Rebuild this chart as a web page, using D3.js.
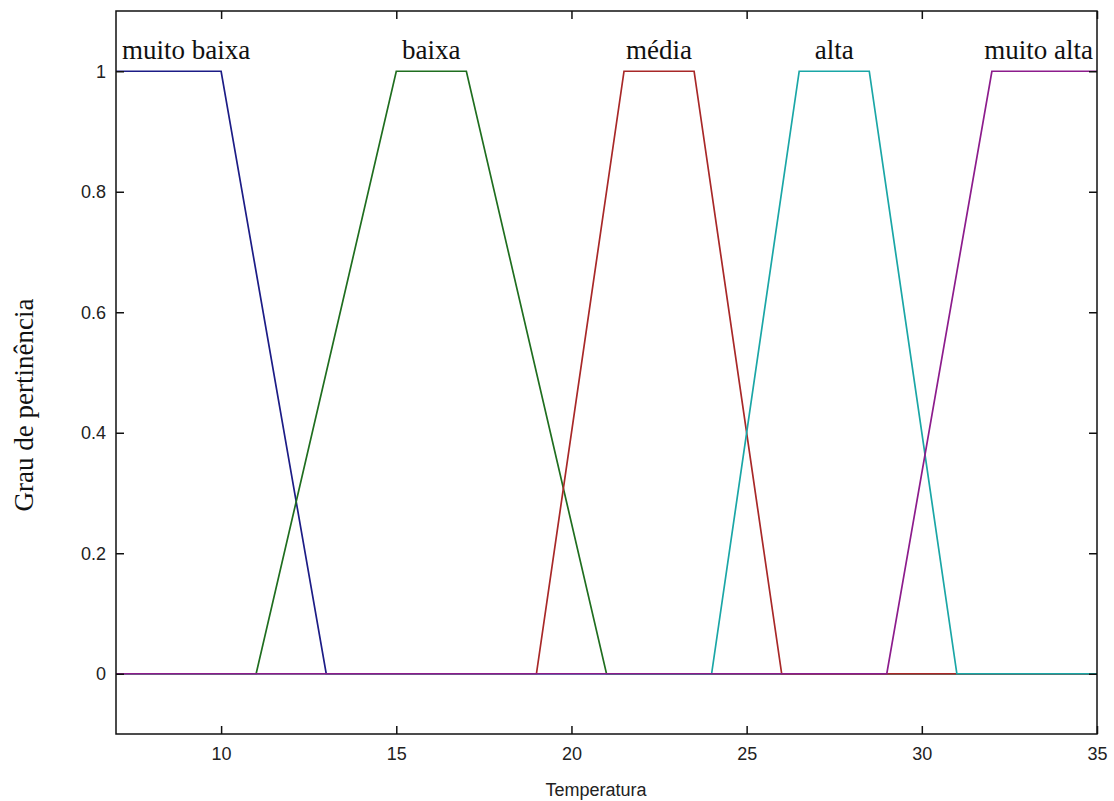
<!DOCTYPE html>
<html>
<head>
<meta charset="utf-8">
<script src="https://cdn.jsdelivr.net/npm/d3@7"></script>
<style>
  body { margin: 0; background: #fff; }
</style>
</head>
<body>
<div id="chart"></div>
<script>
// fuzzy sets for temperature (trapezoid a, b, c, d)
const setNames = ["muito baixa", "baixa", "média", "alta", "muito alta"];
const setParams = [
    [7, 7, 10, 13],
    [11, 15, 17, 21],
    [19, 21.5, 23.5, 26],
    [24, 26.5, 28.5, 31],
    [29, 32, 35, 35]
];
const setColors = ["#1c1c86", "#1f6e1f", "#a82828", "#1aa6a6", "#8c1c8c"];
const xTicks = [10, 15, 20, 25, 30, 35];
const yTicks = [0, 0.2, 0.4, 0.6, 0.8, 1];
const xDomain = [7, 35];
const yDomain = [-0.1, 1.1];

const width = 1114;
const height = 801;
const margin = {top: 11, right: 17, bottom: 67, left: 116};

const svg = d3.select('#chart')
    .append('svg')
        .attr('width', width)
        .attr('height', height);

const x = d3.scaleLinear()
    .domain(xDomain)
    .range([margin.left, width - margin.right]);
const y = d3.scaleLinear()
    .domain(yDomain)
    .range([height - margin.bottom, margin.top]);

// each set drawn over the whole domain, 0 outside its support
const setPoints = p => {
    const pts = [[xDomain[0], p[0] <= xDomain[0] ? 1 : 0]];
    if (p[0] > xDomain[0]) pts.push([p[0], 0]);
    pts.push([p[1], 1], [p[2], 1]);
    if (p[3] < xDomain[1]) pts.push([p[3], 0], [xDomain[1], 0]);
    return pts;
};

const line = d3.line()
    .x(d => x(d[0]))
    .y(d => y(d[1]));

svg.append('g')
    .selectAll('path')
    .data(setParams)
    .join('path')
        .attr('d', d => line(setPoints(d)))
        .attr('fill', 'none')
        .attr('stroke', (d, i) => setColors[i])
        .attr('stroke-width', 1.7);

// axes, MATLAB style: box with inward ticks on all sides
const tickLen = 8;
svg.append('g')
    .attr('transform', `translate(0,${height - margin.bottom})`)
    .call(d3.axisBottom(x).tickValues(xTicks).tickSizeInner(-tickLen).tickSizeOuter(0).tickPadding(13))
    .call(g => g.select('.domain').remove());
svg.append('g')
    .attr('transform', `translate(0,${margin.top})`)
    .call(d3.axisTop(x).tickValues(xTicks).tickSizeInner(-tickLen).tickSizeOuter(0).tickFormat(''))
    .call(g => g.select('.domain').remove());
svg.append('g')
    .attr('transform', `translate(${margin.left},0)`)
    .call(d3.axisLeft(y).tickValues(yTicks).tickSizeInner(-tickLen).tickSizeOuter(0).tickPadding(10)
        .tickFormat(d => d === 0 || d === 1 ? d : d3.format('.1f')(d)))
    .call(g => g.select('.domain').remove());
svg.append('g')
    .attr('transform', `translate(${width - margin.right},0)`)
    .call(d3.axisRight(y).tickValues(yTicks).tickSizeInner(-tickLen).tickSizeOuter(0).tickFormat(''))
    .call(g => g.select('.domain').remove());

svg.selectAll('.tick line')
    .attr('stroke', '#111')
    .attr('stroke-width', 1.5);
svg.selectAll('.tick text')
    .style('font-family', 'Liberation Sans, Arial, sans-serif')
    .style('font-size', '18px')
    .attr('fill', '#222');

svg.append('rect')
    .attr('x', margin.left)
    .attr('y', margin.top)
    .attr('width', width - margin.left - margin.right)
    .attr('height', height - margin.top - margin.bottom)
    .attr('fill', 'none')
    .attr('stroke', '#111')
    .attr('stroke-width', 1.5);

// set labels above each plateau
const lastSet = setParams.length - 1;
svg.append('g')
    .selectAll('text')
    .data(setParams)
    .join('text')
        .attr('x', (d, i) => i === 0 ? x(xDomain[0]) + 6 : i === lastSet ? x(xDomain[1]) - 4 : x((d[1] + d[2]) / 2))
        .attr('y', y(1) - 12)
        .attr('text-anchor', (d, i) => i === 0 ? 'start' : i === lastSet ? 'end' : 'middle')
        .style('font-family', 'Liberation Serif, Times New Roman, serif')
        .style('font-size', '27px')
        .attr('fill', '#111')
        .text((d, i) => setNames[i]);

svg.append('text')
    .attr('x', 596)
    .attr('y', 796)
    .attr('text-anchor', 'middle')
    .style('font-family', 'Liberation Sans, Arial, sans-serif')
    .style('font-size', '18px')
    .attr('fill', '#222')
    .text('Temperatura');

svg.append('text')
    .attr('transform', `translate(33,405) rotate(-90)`)
    .attr('text-anchor', 'middle')
    .style('font-family', 'Liberation Serif, Times New Roman, serif')
    .style('font-size', '27px')
    .attr('fill', '#111')
    .text('Grau de pertinência');
</script>
</body>
</html>
